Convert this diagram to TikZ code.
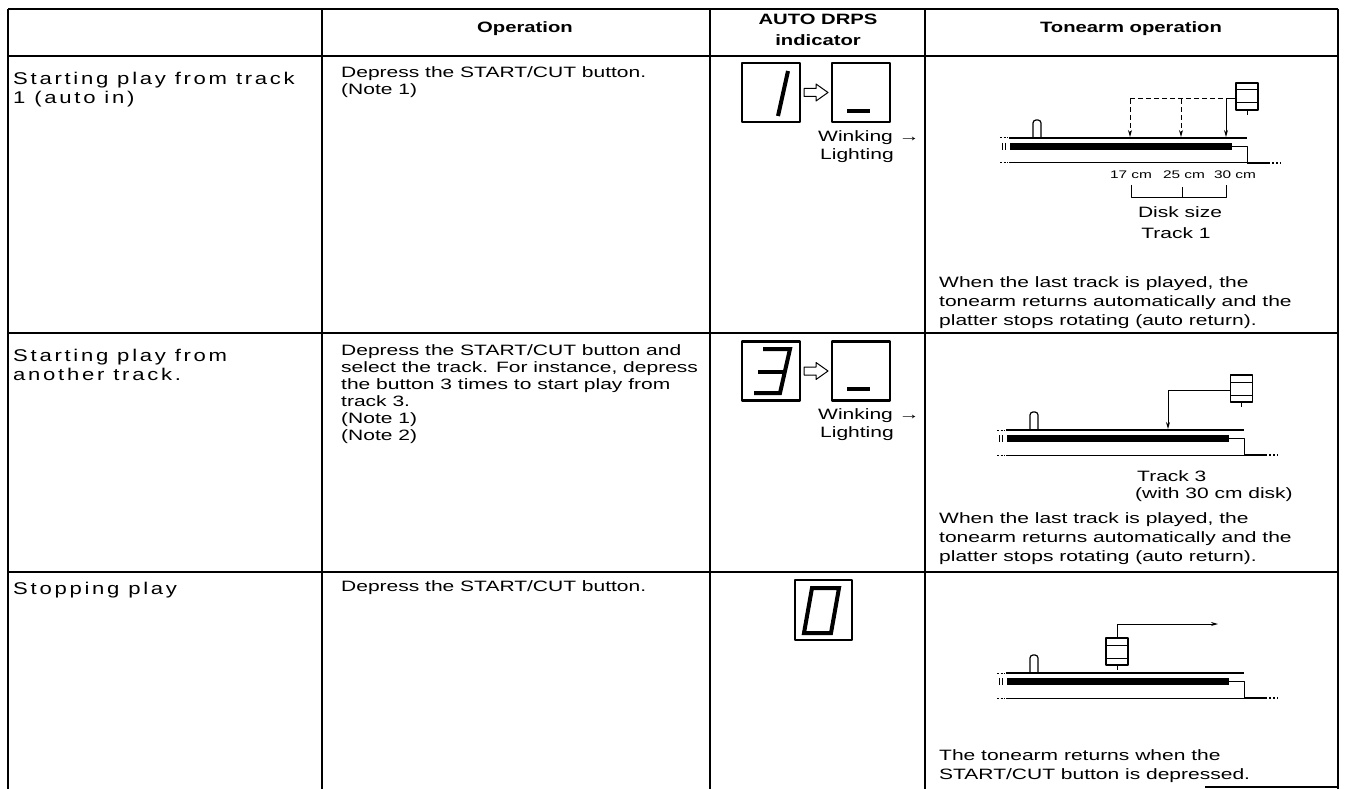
\documentclass[tikz,border=0pt]{standalone}
\usepackage{fontspec}
\setmainfont{Liberation Sans}
\newfontfamily\bodyfam[FakeStretch=1.4]{Liberation Sans}
\newfontfamily\rowfam[FakeStretch=1.3,LetterSpace=16]{Liberation Sans}
\newfontfamily\headfam[FakeStretch=1.35]{Liberation Sans}
\usetikzlibrary{arrows.meta}
\tikzset{
  platter/.pic={
    % spindle
    \draw[line width=1.2pt, rounded corners=3pt] (33,0) -- (33,-18) -- (41,-18) -- (41,0);
    % disk and platter edge
    \draw[line width=1pt, dash pattern=on 2pt off 1.5pt] (0,0) -- (8,0) (0,25) -- (8,25);
    \draw[line width=1.2pt] (9,0) -- (247,0);
    \draw[line width=1pt] (9,25) -- (247,25);
    \fill (10,5) rectangle (232,12);
    \draw[line width=0.8pt] (2,5) -- (2,12) (5,5) -- (5,12);
    \draw[line width=1pt] (232,8.5) -- (247,8.5) -- (247,25);
    \draw[line width=2.2pt] (247,25) -- (270,25);
    \draw[line width=2pt, dash pattern=on 2pt off 2pt] (272,25) -- (281,25);
  },
  headbox/.pic={
    \draw[line width=1.2pt] (-11,0) rectangle (11,27);
    \draw[line width=1pt] (-11,7) -- (11,7) (-11,20) -- (11,20);
    \draw[line width=1pt] (0,27) -- (0,32);
  }
}
\begin{document}
\begin{tikzpicture}[x=1pt, y=-1pt, line join=round, >={Stealth[length=7pt,width=4pt]},
  head/.style={font=\headfam\bfseries\fontsize{15pt}{21pt}\selectfont, align=center, inner sep=0pt},
  rowlabel/.style={font=\rowfam\fontsize{17pt}{19pt}\selectfont, anchor=north west, align=left, inner sep=0pt},
  celltext/.style={font=\bodyfam\fontsize{15pt}{17pt}\selectfont, anchor=north west, align=left, inner sep=0pt},
  armtext/.style={font=\bodyfam\fontsize{15pt}{19pt}\selectfont, anchor=north west, align=left, inner sep=0pt},
  cmlabel/.style={font=\bodyfam\fontsize{11pt}{13pt}\selectfont, inner sep=0pt},
  digitbox/.style={draw, line width=2.2pt, inner sep=0pt, minimum width=58pt, minimum height=59pt},
  seg/.style={line width=4pt, line cap=butt},
  tablerule/.style={line width=1.3pt}]
\fill[white] (0,0) rectangle (1345,789);
\useasboundingbox (0,0) rectangle (1345,789);
% table rules
\draw[tablerule] (8,9) -- (1338,9) (8,56) -- (1338,56) (8,333) -- (1338,333) (8,572) -- (1338,572);
\foreach \xc in {8,322,710,925,1338}
  \draw[tablerule] (\xc,9) -- (\xc,789);
\draw[tablerule] (1205,787) -- (1338,787);
% header
\node[head] (hop) at (525,29) {Operation};
\node[head] (hind) at (818,30) {AUTO DRPS\\indicator};
\node[head] (harm) at (1131,29) {Tonearm operation};

% row 1
\node[rowlabel] (lab1) at (13,72) {Starting play from track\\1 (auto in)};
\node[celltext] (op1) at (341,66) {Depress the START/CUT button.\\(Note 1)};
\node[digitbox] (ina) at (771,92.5) {};
\node[digitbox] (inb) at (861,92.5) {};
\draw[line width=1pt] (804,88.5) -- (816,88.5) -- (816,84) -- (828,92.5) -- (816,101) -- (816,96.5) -- (804,96.5) -- cycle;
\draw[seg] (778,116) -- (788,71);
\draw[seg, line width=4.5pt] (847,111) -- (870,111);
\node[celltext, font=\bodyfam\fontsize{15pt}{18pt}\selectfont] (wl1) at (818,130) {Winking →\\\hspace*{2pt}Lighting};
\pic at (1000,138) {platter};
\pic at (1247,83) {headbox};
\draw[line width=1pt, dash pattern=on 5pt off 3pt] (1130,99) -- (1226,99);
\draw[->, line width=1pt, dash pattern=on 5pt off 3pt] (1130,99) -- (1130,137);
\draw[->, line width=1pt, dash pattern=on 5pt off 3pt] (1181,99) -- (1181,137);
\draw[->, line width=1pt] (1236,99) -- (1226,99) -- (1226,137);
\node[cmlabel] (c17) at (1131,175) {17 cm};
\node[cmlabel] (c25) at (1184,175) {25 cm};
\node[cmlabel] (c30) at (1235,175) {30 cm};
\draw[line width=1pt] (1131,185) -- (1131,198) -- (1226,198) -- (1226,185) (1182,198) -- (1182,187);
\node[celltext, anchor=center] (dsz) at (1180,212) {Disk size};
\node[celltext, anchor=center] (tr1) at (1176,233) {Track 1};
\node[armtext] (ar1) at (939,276) {When the last track is played, the\\tonearm returns automatically and the\\platter stops rotating (auto return).};

% row 2
\node[rowlabel] (lab2) at (13,349) {Starting play from\\another track.};
\node[celltext] (op2) at (341,344.5) {Depress the START/CUT button and\\select the track. For instance, depress\\the button 3 times to start play from\\track 3.\\(Note 1)\\(Note 2)};
\node[digitbox] (ia2) at (771,371) {};
\node[digitbox] (ib2) at (861,371) {};
\draw[line width=1pt] (804,367) -- (816,367) -- (816,362.5) -- (828,371) -- (816,379.5) -- (816,375) -- (804,375) -- cycle;
\draw[seg, line join=miter] (763,349) -- (790,349) -- (780,393) -- (754,393);
\draw[seg] (758,372) -- (783,372);
\draw[seg, line width=4.5pt] (847,389) -- (870,389);
\node[celltext, font=\bodyfam\fontsize{15pt}{18pt}\selectfont] (wl2) at (818,408) {Winking →\\\hspace*{2pt}Lighting};
\pic at (997,430) {platter};
\pic at (1241.5,375) {headbox};
\draw[->, line width=1pt] (1230.5,390) -- (1168,390) -- (1168,429);
\node[celltext] (tr3) at (1137,470) {Track 3\\\hspace*{-2pt}(with 30 cm disk)};
\node[armtext] (ar2) at (939,512) {When the last track is played, the\\tonearm returns automatically and the\\platter stops rotating (auto return).};

% row 3
\node[rowlabel] (lab3) at (13,582) {Stopping play};
\node[celltext] (op3) at (341,580) {Depress the START/CUT button.};
\node[digitbox, minimum width=57pt, minimum height=60pt] (iz) at (823.5,610) {};
\draw[seg, line join=miter] (812,588) -- (839,588) -- (831,633) -- (804,633) -- cycle;
\pic at (997,673) {platter};
\pic at (1117,638) {headbox};
\draw[->, line width=1pt] (1117,638) -- (1117,624) -- (1218,624);
\node[armtext] (ar3) at (939,749) {The tonearm returns when the\\START/CUT button is depressed.};
\end{tikzpicture}
\end{document}
